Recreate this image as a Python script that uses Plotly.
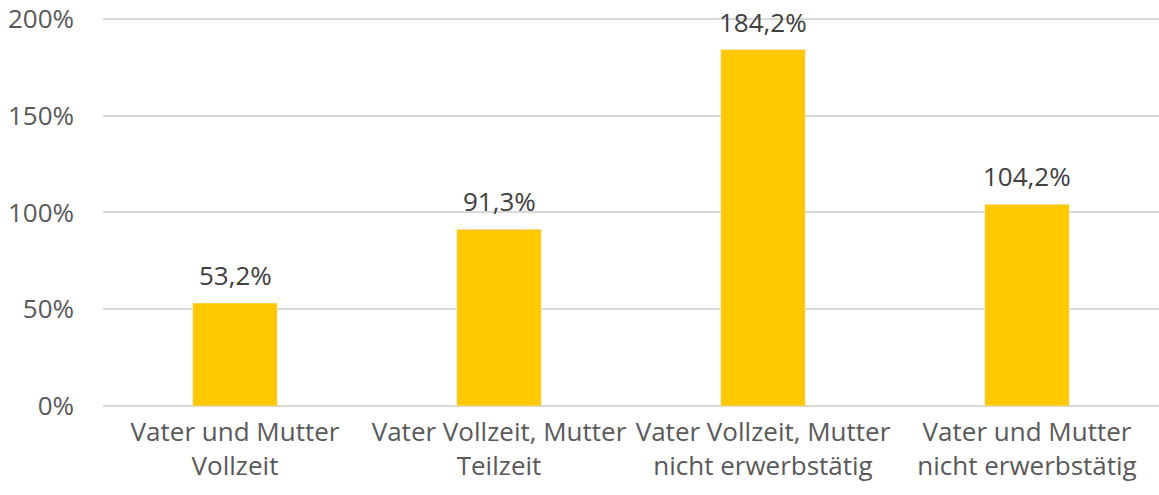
import plotly.graph_objects as go

categories = ["Vater und Mutter<br>Vollzeit", "Vater Vollzeit, Mutter<br>Teilzeit",
              "Vater Vollzeit, Mutter<br>nicht erwerbstätig", "Vater und Mutter<br>nicht erwerbstätig"]
values = [53.2, 91.3, 184.2, 104.2]
tick_vals = [0, 50, 100, 150, 200]
tick_text = ["0%", "50%", "100%", "150%", "200%"]

FONT = "'Open Sans', sans-serif"

fig = go.Figure()
fig.add_trace(go.Bar(x=categories, y=values, marker_color="#FFC800", width=0.32,
                     hoverinfo="skip"))

for c, v in zip(categories, values):
    fig.add_annotation(x=c, y=v, text=f"{v:.1f}%".replace(".", ","), showarrow=False,
                       yanchor="bottom", yshift=8,
                       font=dict(family=FONT, size=26, color="#404040"))

fig.update_layout(
    width=1159, height=495,
    margin=dict(l=103, r=0, t=17, b=89),
    plot_bgcolor="white", paper_bgcolor="white",
    showlegend=False,
    font=dict(family=FONT, size=26, color="#595959"),
    bargap=0.68,
)
fig.update_yaxes(range=[0, 201], tickvals=tick_vals, ticktext=tick_text,
                 showgrid=True, gridcolor="#D9D9D9", gridwidth=1.5,
                 zeroline=True, zerolinecolor="#D9D9D9", zerolinewidth=1.5,
                 ticks="", ticklabelstandoff=28, showline=False)
fig.update_xaxes(showgrid=False, ticks="", ticklabelstandoff=8, showline=False)

fig.write_html("out.html", config={"displayModeBar": False},
               post_script="document.body.style.margin='0';")
